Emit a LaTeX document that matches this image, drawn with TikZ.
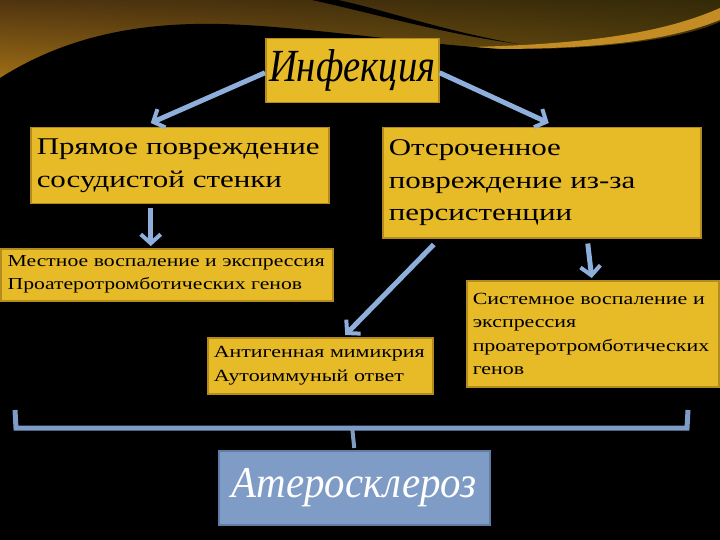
\documentclass[tikz,border=0pt]{standalone}
\usepackage{fontspec}
\setmainfont{Liberation Serif}
\newfontfamily\bodyf[FakeStretch=1.29]{Liberation Serif}
\newfontfamily\titlef[FakeStretch=0.84]{Liberation Serif}
\newfontfamily\atf[FakeStretch=0.93]{Liberation Serif}
\usetikzlibrary{arrows.meta,shadings}
\definecolor{goldfill}{RGB}{231,186,40}
\definecolor{goldedge}{RGB}{180,140,30}
\definecolor{arrowblue}{RGB}{142,175,220}
\definecolor{boxblue}{RGB}{126,156,198}
\definecolor{boxblueedge}{RGB}{95,125,165}
\definecolor{bgtopl}{RGB}{80,52,16}
\definecolor{bgtopr}{RGB}{52,42,8}
\definecolor{bgbotl}{RGB}{165,115,22}
\definecolor{bgbotr}{RGB}{96,72,14}
\definecolor{stripegold}{RGB}{196,140,36}
\tikzset{
  goldbox/.style={draw=goldedge, line width=1.5pt, fill=goldfill, anchor=north west,
    inner sep=6pt, align=left, text=black},
  bluebox/.style={draw=boxblueedge, line width=1.5pt, fill=boxblue, anchor=north west,
    inner sep=6pt, text=white},
  flow/.style={draw=arrowblue, line width=5pt, -{Straight Barb[length=9pt,width=20pt,line width=4pt]}},
}
\begin{document}
\begin{tikzpicture}[x=1pt,y=-1pt]
\useasboundingbox (0,0) rectangle (720,540);
\fill[black] (0,0) rectangle (720,540);
\shade[upper left=bgtopl, upper right=bgtopr, lower left=bgbotl, lower right=bgbotr] (0,0) rectangle (720,85);
% swoosh
\fill[black] (312,0) .. controls (380,15) and (440,33) .. (518,44) .. controls (440,30) and (385,10) .. (338,0) -- cycle;
% gold stripe
\fill[stripegold] (470,47) .. controls (600,44) and (670,30) .. (720,8) -- (720,20) .. controls (670,40) and (600,50) .. (470,49) -- cycle;
% black hill
\fill[black] (0,78) .. controls (60,40) and (130,22) .. (220,24) .. controls (300,26) and (400,42) .. (500,49) .. controls (600,50) and (680,40) .. (720,22) -- (720,540) -- (0,540) -- cycle;

% nodes
\node[goldbox, minimum width=173pt, minimum height=64pt, inner sep=2pt, align=center,
  font=\titlef\itshape\fontsize{46}{50}\selectfont] (inf) at (265,38) {Инфекция};
\node[goldbox, minimum width=298pt, minimum height=76pt, text width=286pt,
  font=\bodyf\fontsize{24}{33}\selectfont] (pr) at (30,127)
  {Прямое повреждение\\сосудистой стенки};
\node[goldbox, minimum width=318pt, minimum height=110pt, text width=306pt,
  font=\bodyf\fontsize{24}{32.5}\selectfont] (ot) at (382,127)
  {Отсроченное\\повреждение из-за\\персистенции};
\node[goldbox, minimum width=332pt, minimum height=52pt, text width=328pt, inner xsep=2pt,
  font=\bodyf\fontsize{16.8}{23}\selectfont] (me) at (0,248)
  {\hspace*{5pt}Местное воспаление и экспрессия\\\hspace*{5pt}Проатеротромботических генов};
\node[goldbox, minimum width=225pt, minimum height=56pt, text width=213pt,
  font=\bodyf\fontsize{17}{24}\selectfont] (an) at (207,337)
  {Антигенная мимикрия\\Аутоиммуный ответ};
\node[goldbox, minimum width=252pt, minimum height=106pt, text width=240pt,
  font=\bodyf\fontsize{17}{23.5}\selectfont] (si) at (466,280)
  {Системное воспаление и\\экспрессия\\проатеротромботических\\генов};
\node[bluebox, minimum width=271pt, minimum height=74pt, align=center,
  font=\atf\itshape\fontsize{44}{48}\selectfont] (at) at (218,450) {Атеросклероз};

% connectors
\draw[flow] ([yshift=-2pt]inf.west) -- ([xshift=-29pt,yshift=4pt]pr.north);
\draw[flow] ([yshift=-2pt]inf.east) -- ([xshift=7pt,yshift=4pt]ot.north);
\draw[flow] ([xshift=-29pt,yshift=-4pt]pr.south) -- ([xshift=-16pt,yshift=2pt]me.north);
\draw[flow] ([xshift=-108pt,yshift=-6pt]ot.south) -- ([xshift=25pt,yshift=2pt]an.north);
\draw[flow] ([xshift=46pt,yshift=-5pt]ot.south) -- ([xshift=-1pt,yshift=2pt]si.north);

% bracket
\coordinate (bl) at (15,410);
\coordinate (br) at (688,410);
\draw[boxblue, line width=5pt, line join=miter] (bl) -- (16,428) -- (687,428) -- (br);
\draw[boxblue, line width=4pt] (352,426) -- ([yshift=2pt]at.north);
\end{tikzpicture}
\end{document}
